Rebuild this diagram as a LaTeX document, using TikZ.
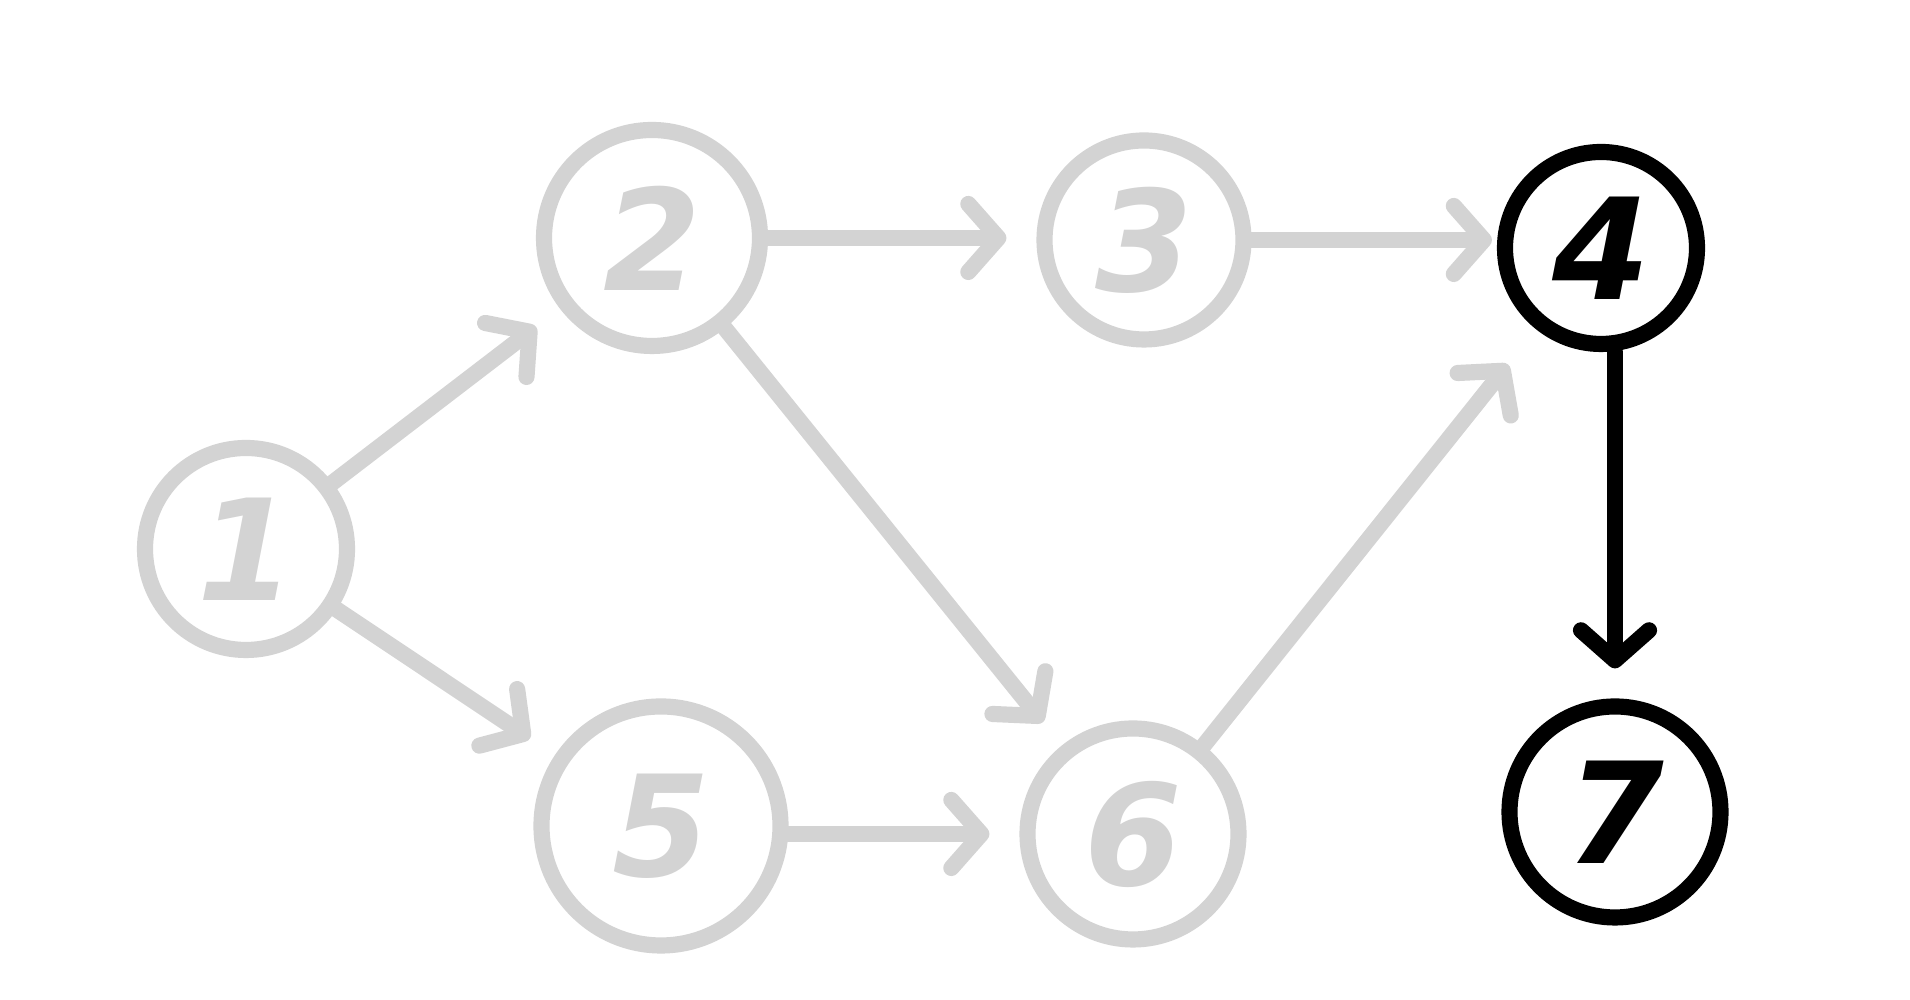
\documentclass[tikz,border=0pt]{standalone}
\usepackage{fontspec}
\setmainfont{DejaVu Sans}
\usepackage{tikz}
\usetikzlibrary{arrows.meta}
\usepackage{xcolor}
\definecolor{edgegray}{RGB}{211, 211, 211}
\definecolor{pathblack}{RGB}{0, 0, 0}
\tikzset{
  % Graph vertices
  vert/.style      = {circle, line width=4.6pt, draw=edgegray, text=edgegray,
                      inner sep=0pt, font=\fontsize{40}{40}\selectfont\bfseries\itshape},
  vertdark/.style  = {vert, draw=pathblack, text=pathblack},
  % Directed edges
  arc/.style       = {line width=4.6pt, edgegray, line cap=round,
                      -{Straight Barb[length=0.3cm, width=0.68cm, round]},
                      shorten >=0.3cm},
  arcdark/.style   = {arc, pathblack},
}

\begin{document}
\begin{tikzpicture}
  \useasboundingbox (0,0) rectangle (19.1,10);
  % Vertices
  \node[vert, minimum size=2.02cm] (v1) at (2.46,4.51) {1};
  \node[vert, minimum size=2.16cm] (v2) at (6.52,7.62) {2};
  \node[vert, minimum size=1.99cm] (v3) at (11.44,7.60) {3};
  \node[vertdark, minimum size=1.92cm] (v4) at (16.01,7.52) {4};
  \node[vert, minimum size=2.39cm] (v5) at (6.61,1.74) {5};
  \node[vert, minimum size=2.11cm] (v6) at (11.33,1.66) {6};
  \node[vertdark, minimum size=2.11cm] (v7) at (16.15,1.88) {7};
  % Edges
  \draw[arc] (v1) -- (v2);
  \draw[arc] (v1) -- (v5);
  \draw[arc] (v2.east) -- (v2.east -| v3.west);
  \draw[arc] (v2) -- (v6);
  \draw[arc, shorten >=0.05cm] (v3.east) -- (v3.east -| v4.west);
  \draw[arc] (v5.east |- v6) -- (v6.west);
  \draw[arc, shorten >=0.45cm] (v6) -- (v4);
  \draw[arcdark] (v4.south -| v7) -- (v7.north);
\end{tikzpicture}
\end{document}
